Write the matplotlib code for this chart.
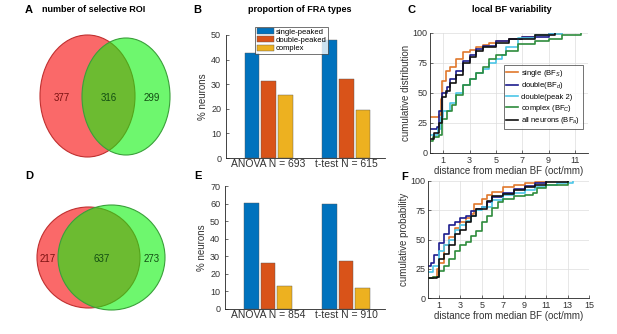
import matplotlib.pyplot as plt
from matplotlib.patches import Ellipse

plt.rcParams['font.family'] = ['Liberation Sans', 'DejaVu Sans']
plt.rcParams['mathtext.fontset'] = 'custom'
plt.rcParams['mathtext.rm'] = 'Liberation Sans'
plt.rcParams['mathtext.it'] = 'Liberation Sans:italic'

# --- data -------------------------------------------------------------
venn_a = [377, 316, 299]
venn_d = [217, 637, 273]

fra_types = ["single-peaked", "double-peaked", "complex"]
groups_b = ["ANOVA N = 693", "t-test N = 615"]
pct_b = {"single-peaked": [42.5, 48.0],
         "double-peaked": [31.5, 32.0],
         "complex": [25.5, 19.5]}
groups_e = ["ANOVA N = 854", "t-test N = 910"]
pct_e = {"single-peaked": [60.5, 60.0],
         "double-peaked": [26.0, 27.5],
         "complex": [13.0, 12.0]}

cdf_labels = ["single (BF$_S$)", "double(BF$_d$)", "double(peak 2)",
              "complex (BF$_C$)", "all neurons (BF$_a$)"]

# panel C: distance (oct/mm) and cumulative %
c_x = [
    [0, 0.7, 0.8, 0.9, 1.2, 1.5, 2.0, 2.5, 3.0, 3.5, 4.0, 4.5, 5.0, 6.0, 7.0, 8.0, 9.0, 10.0],
    [0, 0.5, 0.7, 0.9, 1.3, 1.5, 2.0, 2.5, 3.0, 3.5, 4.0, 5.0, 6.0, 7.0, 9.0, 9.5],
    [0, 0.6, 0.8, 1.0, 1.5, 2.0, 2.5, 3.0, 3.5, 4.0, 4.5, 5.0, 5.5, 5.8, 6.7, 8.0, 9.0, 10.0],
    [0, 0.2, 0.7, 0.9, 1.3, 1.7, 2.0, 2.5, 3.0, 3.5, 4.0, 4.5, 5.0, 5.8, 6.7, 8.0, 9.0, 10.0, 11.5],
    [0, 0.3, 0.7, 0.9, 1.2, 1.5, 2.0, 2.5, 3.0, 3.5, 4.0, 5.0, 6.0, 8.0, 9.5],
]
c_y = [
    [30, 32, 45, 60, 68, 72, 78, 84, 86, 88, 90, 92, 93, 95, 97, 98, 99, 100],
    [20, 22, 35, 50, 55, 62, 68, 77, 82, 87, 89, 93, 95, 97, 99, 100],
    [15, 20, 30, 35, 42, 50, 57, 62, 67, 70, 75, 78, 82, 88, 96, 98, 99, 100],
    [10, 13, 15, 28, 35, 40, 48, 57, 62, 67, 72, 78, 82, 85, 91, 93, 95, 98, 100],
    [12, 17, 25, 47, 52, 58, 65, 75, 80, 85, 88, 92, 95, 98, 100],
]

# panel F
f_x = [
    [0, 0.5, 0.8, 1.0, 1.5, 2.0, 2.5, 3.0, 3.5, 4.0, 4.3, 5.0, 5.5, 6.0, 7.0, 8.0, 9.0, 10.0, 11.0],
    [0, 0.3, 0.6, 1.0, 1.5, 2.0, 2.5, 3.0, 3.5, 4.0, 4.5, 5.0, 5.5, 6.0, 7.0, 8.0, 9.0, 10.0, 11.0],
    [0, 0.5, 1.0, 1.5, 2.0, 2.5, 3.0, 3.5, 4.0, 4.5, 5.0, 6.0, 7.0, 8.0, 9.0, 10.0, 11.0, 12.0, 13.5],
    [0, 0.5, 1.0, 1.5, 2.0, 2.5, 3.0, 3.5, 4.0, 4.5, 5.0, 5.5, 6.0, 6.5, 7.0, 8.0, 9.0, 9.8, 10.2, 11.0, 13.0],
    [0, 0.8, 1.0, 1.5, 2.0, 2.5, 3.0, 3.5, 4.0, 4.5, 5.5, 6.0, 7.0, 8.0, 9.0, 10.0, 11.0, 13.0],
]
f_y = [
    [17, 18, 25, 30, 45, 52, 60, 65, 68, 72, 80, 85, 88, 91, 95, 97, 98, 99, 100],
    [27, 30, 37, 47, 55, 62, 65, 68, 70, 74, 76, 78, 82, 86, 90, 93, 96, 98, 100],
    [22, 27, 40, 45, 50, 58, 62, 66, 70, 75, 78, 84, 88, 90, 92, 95, 97, 98.5, 100],
    [17, 18, 23, 27, 33, 40, 45, 48, 53, 57, 65, 70, 77, 82, 85, 87, 88, 90, 94, 97, 100],
    [17, 18, 33, 38, 45, 55, 58, 65, 70, 76, 83, 87, 89, 92, 95, 97, 99, 100],
]

bar_colors = ["#0072BD", "#D95319", "#EDB120"]
line_colors = ["#E0782C", "#1C1C8E", "#4CC6E8", "#2E8B3C", "#111111"]
text_gray = "#333333"

W, H = 617, 334
fig = plt.figure(figsize=(W / 100, H / 100), dpi=100)


def px_axes(l, t, r, b):
    return fig.add_axes([l / W, 1 - b / H, (r - l) / W, (b - t) / H])


def venn(ax_box, red, green, counts, text_pos):
    ax = fig.add_axes(ax_box)
    x0, y0 = ax_box[0] * W, (1 - ax_box[1] - ax_box[3]) * H
    ax.set_xlim(x0, x0 + ax_box[2] * W)
    ax.set_ylim(y0 + ax_box[3] * H, y0)
    ax.axis("off")
    ax.add_patch(Ellipse(red[:2], red[2], red[3], fc=(0.97, 0.05, 0.05, 0.62), ec="#C03030", lw=0.8))
    ax.add_patch(Ellipse(green[:2], green[2], green[3], fc=(0.05, 0.95, 0.05, 0.6), ec="#3AA03A", lw=0.8))
    cols = ["#7A1010", "#124D12", "#124D12"]
    for n, (tx, ty), c in zip(counts, text_pos, cols):
        ax.text(tx, ty, str(n), ha="center", va="center", fontsize=7, color=c)


venn([0, 0.5, 200 / W, 0.5], (87.5, 96, 95, 122), (126, 96.5, 88, 117),
     venn_a, [(62, 98), (109, 98), (152, 98)])
venn([0, 0, 200 / W, 0.5], (88.5, 257.5, 103, 101), (111.5, 257.5, 107, 105),
     venn_d, [(48, 259), (101.5, 259), (152, 259)])


def style_axes(ax):
    for s in ["top", "right"]:
        ax.spines[s].set_visible(False)
    for s in ["left", "bottom"]:
        ax.spines[s].set_linewidth(0.6)
        ax.spines[s].set_color("#222222")
    ax.tick_params(colors=text_gray)


def bars(ax, groups, pct, ymax, step):
    w = 0.19
    for i, t in enumerate(fra_types):
        xs = [g + 1 + (i - 1) * 0.215 for g in range(len(groups))]
        ax.bar(xs, pct[t], width=w, color=bar_colors[i], label=t,
               edgecolor="#555555", linewidth=0.3)
    ax.set_xlim(0.45, 2.5)
    ax.set_ylim(0, ymax)
    ax.set_yticks(range(0, ymax + 1, step))
    ax.set_xticks([1, 2])
    ax.set_xticklabels(groups, fontsize=7.5)
    style_axes(ax)
    ax.tick_params(axis="y", labelsize=6.5, direction="in", length=2, width=0.5)
    ax.tick_params(axis="x", length=0, pad=1)
    ax.set_ylabel("% neurons", fontsize=7, labelpad=2, color=text_gray)


ax_b = px_axes(226, 35, 385, 158)
bars(ax_b, groups_b, pct_b, 50, 10)
ax_b.legend(loc="upper left", bbox_to_anchor=(0.16, 1.1), fontsize=5.5, frameon=True,
            fancybox=False, edgecolor="#333333", handlelength=2.2, handleheight=0.8,
            borderpad=0.2, labelspacing=0.1, handletextpad=0.3).get_frame().set_linewidth(0.6)

ax_e = px_axes(225, 186, 385, 309)
bars(ax_e, groups_e, pct_e, 70, 10)


def cdfs(ax, xs, ys, xmax, xticks, ylabel):
    for x, y, c, lab in zip(xs, ys, line_colors, cdf_labels):
        ax.plot(x, y, drawstyle="steps-post", color=c, lw=1.2, label=lab)
    ax.set_xlim(0, xmax)
    ax.set_ylim(0, 100)
    ax.set_xticks(xticks)
    ax.set_yticks([0, 25, 50, 75, 100])
    ax.grid(True, color="#DDDDDD", lw=0.5)
    style_axes(ax)
    ax.tick_params(labelsize=6.5, direction="in", length=2, width=0.5, pad=2)
    ax.set_ylabel(ylabel, fontsize=7, labelpad=1, color=text_gray)
    ax.set_xlabel("distance from median BF (oct/mm)", fontsize=7, labelpad=1, color=text_gray)


ax_c = px_axes(430, 33, 588, 153)
cdfs(ax_c, c_x, c_y, 12, [1, 3, 5, 7, 9, 11], "cumulative distribution")
ax_c.legend(loc="lower right", bbox_to_anchor=(0.99, 0.17), fontsize=5.5, frameon=True,
            fancybox=False, edgecolor="#333333", handlelength=1.6, borderpad=0.3,
            labelspacing=0.25, handletextpad=0.4).get_frame().set_linewidth(0.6)

ax_f = px_axes(428, 181, 589, 298)
cdfs(ax_f, f_x, f_y, 15, [1, 3, 5, 7, 9, 11, 13, 15], "cumulative probability")

# titles and panel letters
fig.text(94 / W, 1 - 10 / H, "number of selective ROI", fontsize=6.5, weight="bold", ha="center", va="center")
fig.text(300 / W, 1 - 10 / H, "proportion of FRA types", fontsize=6.5, weight="bold", ha="center", va="center")
fig.text(512 / W, 1 - 10 / H, "local BF variability", fontsize=6.5, weight="bold", ha="center", va="center")
for lab, x, y in [("A", 29, 10), ("B", 197, 10), ("C", 412, 10),
                  ("D", 29, 176), ("E", 198, 176), ("F", 405, 177)]:
    fig.text(x / W, 1 - y / H, lab, fontsize=8, weight="bold", ha="center", va="center")

fig.savefig("out.png", dpi=100)
